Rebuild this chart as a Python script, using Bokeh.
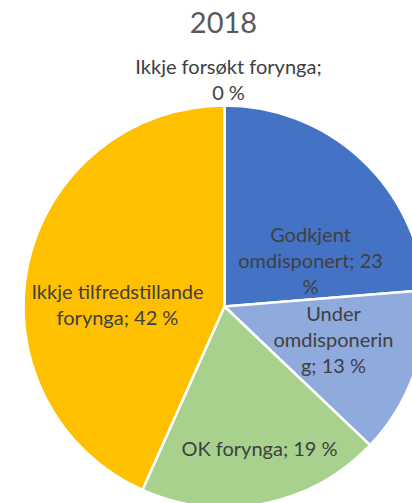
import numpy as np
from bokeh.plotting import figure
from bokeh.models import Range1d, ColumnDataSource
from bokeh.core.properties import value
from bokeh.embed import file_html
from bokeh.resources import INLINE

# ---- data (clockwise from 12 o'clock) ----
categories = ["Godkjent omdisponert", "Under omdisponering", "OK forynga",
              "Ikkje tilfredstillande forynga", "Ikkje forsøkt forynga"]
values = [23, 13, 19, 42, 0]
colors = ["#4472C4", "#8FAADC", "#A9D18E", "#FFC000", "#A5A5A5"]
label_lines = [["Godkjent", "omdisponert; 23", "%"],
               ["Under", "omdisponerin", "g; 13 %"],
               ["OK forynga; 19 %"],
               ["Ikkje tilfredstillande", "forynga; 42 %"],
               ["Ikkje forsøkt forynga;", "0 %"]]
title_text = "2018"

# ---- layout (pixel space; y negative downwards) ----
W, H = 412, 503
cx, cy, R = 224, -306, 201
label_offsets = [(86, 47), (109, -32), (35, -141), (-107, 3), (4, 228)]
line_h = 26

p = figure(width=W, height=H, output_backend="svg", toolbar_location=None,
           x_range=Range1d(0, W), y_range=Range1d(-H, 0),
           min_border=0)
p.axis.visible = False
p.grid.visible = False
p.outline_line_color = None
p.background_fill_color = "white"

total = sum(values)
frac = np.array(values, dtype=float) / total
cum = np.concatenate([[0.0], np.cumsum(frac)])
start = np.pi / 2 - 2 * np.pi * cum[:-1]
end = np.pi / 2 - 2 * np.pi * cum[1:]
keep = [i for i, v in enumerate(values) if v > 0]
src = ColumnDataSource(dict(
    start=[start[i] for i in keep], end=[end[i] for i in keep],
    color=[colors[i] for i in keep], cat=[categories[i] for i in keep]))
p.wedge(x=cx, y=cy, radius=R, start_angle="start", end_angle="end",
        direction="clock", fill_color="color", line_color="white",
        line_width=2.5, source=src)

# labels
lx, ly, lt = [], [], []
for i, lines in enumerate(label_lines):
    ox, oy = label_offsets[i]
    n = len(lines)
    for j, t in enumerate(lines):
        lx.append(cx + ox)
        ly.append(cy + oy - (j - (n - 1) / 2) * line_h)
        lt.append(t)
p.text(x=lx, y=ly, text=lt, text_align="center", text_baseline="middle",
       text_font=value("Lato"), text_font_size="20px", text_color="#404040")

p.text(x=[223], y=[-22], text=[title_text], text_align="center",
       text_baseline="middle", text_font=value("Lato"),
       text_font_size="29px", text_color="#595959")

open("out.html", "w").write(file_html(p, INLINE))
